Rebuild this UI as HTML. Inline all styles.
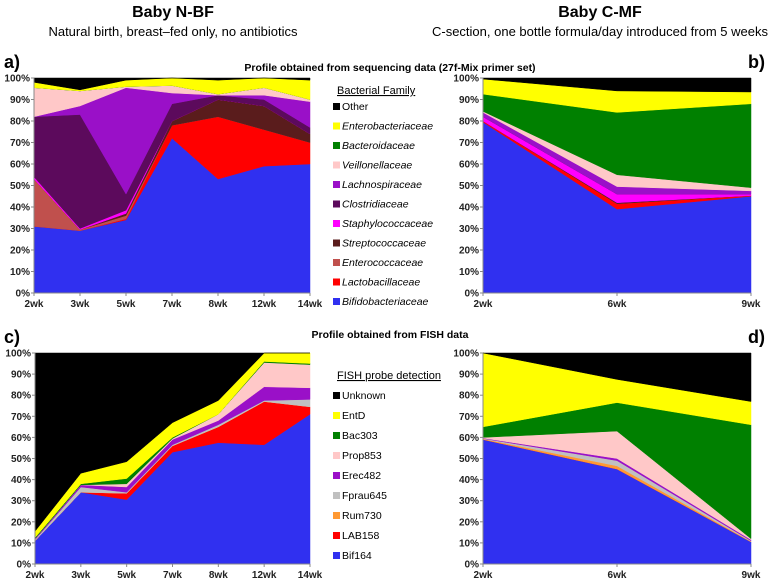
<!DOCTYPE html>
<html><head><meta charset="utf-8"><style>
body{margin:0;background:#fff;}
svg{display:block;font-family:"Liberation Sans",Arial,sans-serif;}
</style></head><body>
<svg id="chart" width="778" height="583" viewBox="0 0 778 583" xmlns="http://www.w3.org/2000/svg">
<text x="173" y="17" text-anchor="middle" font-size="16" font-weight="bold">Baby N-BF</text>
<text x="173" y="36" text-anchor="middle" font-size="13">Natural birth, breast–fed only, no antibiotics</text>
<text x="600" y="17" text-anchor="middle" font-size="16" font-weight="bold">Baby C-MF</text>
<text x="600" y="36" text-anchor="middle" font-size="13">C-section, one bottle formula/day introduced from 5 weeks</text>
<text x="4" y="68" font-size="18" font-weight="bold">a)</text>
<text x="748" y="68" font-size="18" font-weight="bold">b)</text>
<text x="4" y="343" font-size="18" font-weight="bold">c)</text>
<text x="748" y="343" font-size="18" font-weight="bold">d)</text>
<text x="390" y="71" text-anchor="middle" font-size="10.5" font-weight="bold">Profile obtained from sequencing data (27f-Mix primer set)</text>
<text x="390" y="338" text-anchor="middle" font-size="10.5" font-weight="bold">Profile obtained from FISH data</text>
</svg>
<script>
const seqNames=["Bifidobacteriaceae","Lactobacillaceae","Enterococcaceae","Streptococcaceae","Staphylococcaceae","Clostridiaceae","Lachnospiraceae","Veillonellaceae","Bacteroidaceae","Enterobacteriaceae","Other"];
const seqColors=["#3030f0","#ff0000","#c0504d","#5a1c1c","#ff00ff","#5c0a5c","#9a10c8","#ffc8c8","#008000","#ffff00","#000000"];
const fishNames=["Bif164","LAB158","Rum730","Fprau645","Erec482","Prop853","Bac303","EntD","Unknown"];
const fishColors=["#3030f0","#ff0000","#ff9933","#c0c0c0","#9a10c8","#ffc8c8","#008000","#ffff00","#000000"];
const catsA=["2wk","3wk","5wk","7wk","8wk","12wk","14wk"];
const catsB=["2wk","6wk","9wk"];
const yTicks=["0%","10%","20%","30%","40%","50%","60%","70%","80%","90%","100%"];
const seriesA=[
[31,29,34,72,53,59,60],
[0,0,0.5,6,29,17,10],
[22,0.5,1.5,0,0,0,0],
[0,0,1,2,8,11,4],
[1,0.5,1.5,0,0,0,0],
[28,53,7.5,8,2,3,3],
[0,4,49.5,5,0,2,12],
[13.5,7,0.5,3.5,0.5,3.5,1],
[0,0,0,0,0,0,0],
[2.5,0.5,3,3.5,6.5,4.5,9],
[2,5.5,1,0,1,0,1]];
const seriesB=[
[79.5,39,45],[0.5,2.5,0.3],[0,0,0],[0,0.5,0],[2,4,0.7],[0,0,0],[2,3.5,1.5],[0.5,5.5,1.5],[8,29,39],[7,10,5.5],[0.5,6,6.5]];
const seriesC=[
[11,34,30.5,53,57.5,56.5,71],
[0,0,3,3,7.5,20.5,3.5],
[0,0,0,0,0,0,0],
[0.5,2.5,0.5,0.5,1,0.5,3.5],
[0.5,1,2.5,2.5,2,6.5,5.5],
[0,0,1.5,0.5,3,11.5,11],
[0.5,0.5,2.5,0.5,0,0.5,0.5],
[3,5,8,7,6.5,4,5],
[84.5,57,51.5,33,22.5,0,0]];
const seriesD=[
[59,45,10.5],[0,0,0],[0.3,1.5,0.2],[0.2,2.5,0.3],[0.2,1,0.5],[0.3,13,0.5],[5,13.5,54],[35,11,11],[0,12.5,23]];

const NS="http://www.w3.org/2000/svg";
const svg=document.getElementById('chart');
function mk(tag,attrs,parent){const e=document.createElementNS(NS,tag);for(const k in attrs)e.setAttribute(k,attrs[k]);(parent||svg).appendChild(e);return e;}

function panel(id,cats,series,colors,names,x0,x1,y100,y0){
  const g=mk('g',{});
  
  
  const xs=i=>x0+(x1-x0)*i/(cats.length-1);
  const ys=v=>y0-(y0-y100)*v/100;
  let base=cats.map(()=>0);
  series.forEach((vals,s)=>{
    const top=base.map((b,i)=>b+vals[i]);
    let pts=top.map((v,i)=>xs(i)+','+ys(v));
    for(let i=cats.length-1;i>=0;i--)pts.push(xs(i)+','+ys(base[i]));
    const p=mk('polygon',{points:pts.join(' '),fill:colors[s],stroke:colors[s],'stroke-width':0.5},g);
    
    
    base=top;
  });
  const ax=mk('line',{x1:x0,y1:y100,x2:x0,y2:y0,stroke:'#888','stroke-width':1},g);
  
  
  const bx=mk('line',{x1:x0,y1:y0,x2:x1,y2:y0,stroke:'#888','stroke-width':1},g);
  
  
  yTicks.forEach((t,i)=>{
    const y=ys(i*10);
    mk('line',{x1:x0-3,y1:y,x2:x0,y2:y,stroke:'#888'},g);
    const tx=mk('text',{x:x0-4,y:y+3.5,'text-anchor':'end','font-size':10,'font-weight':'bold',fill:'#222'},g);
    tx.textContent=t;
    
    
  });
  cats.forEach((c,i)=>{
    mk('line',{x1:xs(i),y1:y0,x2:xs(i),y2:y0+3,stroke:'#888'},g);
    const tx=mk('text',{x:xs(i),y:y0+14,'text-anchor':'middle','font-size':10,'font-weight':'bold',fill:'#222'},g);
    tx.textContent=c;
    
    
  });
}
panel('a',catsA,seriesA,seqColors,seqNames,34,310,78,293);
panel('b',catsB,seriesB,seqColors,seqNames,483,751,78,293);
panel('c',catsA,seriesC,fishColors,fishNames,35,310,353,564);
panel('d',catsB,seriesD,fishColors,fishNames,483,751,353,564);

function legend(id,title,names,colors,ty,y0,step,italic){
  const g=mk('g',{});
  
  
  const t=mk('text',{x:337,y:ty,'font-size':11,'text-decoration':'underline'},g);
  t.textContent=title;
  
  
  for(let k=names.length-1,r=0;k>=0;k--,r++){
    const y=y0+r*step;
    mk('rect',{x:333,y:y-7,width:7,height:7,fill:colors[k]},g);
    const tx=mk('text',{x:342,y:y,'font-size':10.5,'font-style':(italic&&names[k]!=="Other")?'italic':'normal'},g);
    tx.textContent=names[k];
    
    
  }
}
legend('sequencing','Bacterial Family',seqNames,seqColors,94,110,19.5,true);
legend('fish','FISH probe detection',fishNames,fishColors,379,399,20,false);
</script>
</body></html>
